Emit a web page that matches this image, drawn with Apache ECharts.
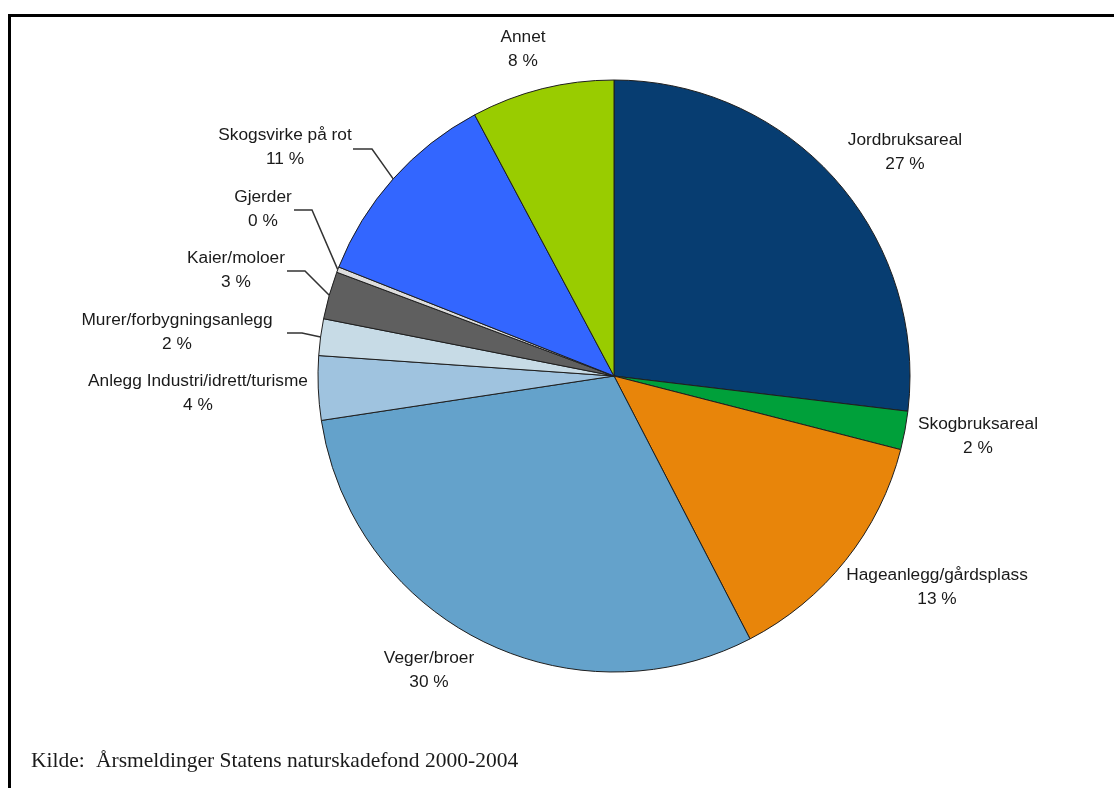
<!DOCTYPE html>
<html>
<head>
<meta charset="utf-8">
<script src="https://cdn.jsdelivr.net/npm/echarts@6/dist/echarts.min.js"></script>
<style>
  html, body { margin: 0; padding: 0; background: #ffffff; }
  #chart { width: 1114px; height: 788px; }
</style>
</head>
<body>
<div id="chart"></div>
<script>
// ---- data ----
var categories = [
  'Jordbruksareal',
  'Skogbruksareal',
  'Hageanlegg/gårdsplass',
  'Veger/broer',
  'Anlegg Industri/idrett/turisme',
  'Murer/forbygningsanlegg',
  'Kaier/moloer',
  'Gjerder',
  'Skogsvirke på rot',
  'Annet'
];
var shares = [26.9, 2.1, 13.4, 30.2, 3.5, 2.0, 2.6, 0.3, 11.2, 7.8];
var sourceLabel = 'Kilde:';
var sourceText = 'Årsmeldinger Statens naturskadefond 2000-2004';

// ---- styles / layout ----
var colors = ['#073d71', '#00a03a', '#e8850a', '#64a2cb', '#9fc3df', '#c7dbe6', '#5f5f5f', '#dddddd', '#3366ff', '#99cc00'];
// label block centres
var labelPos = [
  [905, 152], [978, 436], [937, 587], [429, 670], [198, 393],
  [177, 332], [236, 270], [263, 209], [285, 147], [523, 49]
];
// leader line: [bend, end near label] or null
var leader = [
  null, null, null, null, null,
  [[302, 333], [287, 333]],
  [[305, 271], [287, 271]],
  [[312, 210], [294, 210]],
  [[372, 149], [353, 149]],
  null
];

var data = categories.map(function (n, i) {
  return {
    name: n,
    value: shares[i],
    itemStyle: { color: colors[i] },
    labelLine: { show: !!leader[i] }
  };
});

var serif = '"Liberation Serif", "Times New Roman", serif';
var chart = echarts.init(document.getElementById('chart'), null, { renderer: 'canvas' });
chart.setOption({
  animation: false,
  backgroundColor: '#ffffff',
  graphic: [
    { type: 'line', shape: { x1: 8, y1: 15.5, x2: 1114, y2: 15.5 }, style: { stroke: '#000', lineWidth: 3 } },
    { type: 'line', shape: { x1: 9.5, y1: 14, x2: 9.5, y2: 788 }, style: { stroke: '#000', lineWidth: 3 } },
    { type: 'text', left: 31, top: 750,
      style: { text: sourceLabel, fontFamily: serif, fontSize: 21.5, fill: '#1a1a1a' } },
    { type: 'text', left: 96, top: 750,
      style: { text: sourceText, fontFamily: serif, fontSize: 21.5, fill: '#1a1a1a' } }
  ],
  series: [{
    type: 'pie',
    center: [614, 376],
    radius: 296,
    startAngle: 90,
    clockwise: true,
    avoidLabelOverlap: false,
    silent: true,
    data: data,
    itemStyle: { borderColor: '#1f1f1f', borderWidth: 1 },
    label: {
      show: true,
      position: 'outside',
      formatter: function (p) { return p.name + '\n' + Math.round(p.value) + ' %'; },
      fontFamily: '"Liberation Sans", Arial, sans-serif',
      fontSize: 17.3,
      lineHeight: 24,
      color: '#1a1a1a',
      align: 'center'
    },
    labelLine: {
      show: true,
      length: 10,
      length2: 10,
      lineStyle: { color: '#333', width: 1.5 }
    },
    labelLayout: function (params) {
      var i = params.dataIndex;
      var res = {
        x: labelPos[i][0],
        y: labelPos[i][1],
        align: 'center',
        verticalAlign: 'middle'
      };
      if (leader[i] && params.labelLinePoints) {
        var start = params.labelLinePoints[0];
        res.labelLinePoints = [start, leader[i][0], leader[i][1]];
      }
      return res;
    }
  }]
});
</script>
</body>
</html>
